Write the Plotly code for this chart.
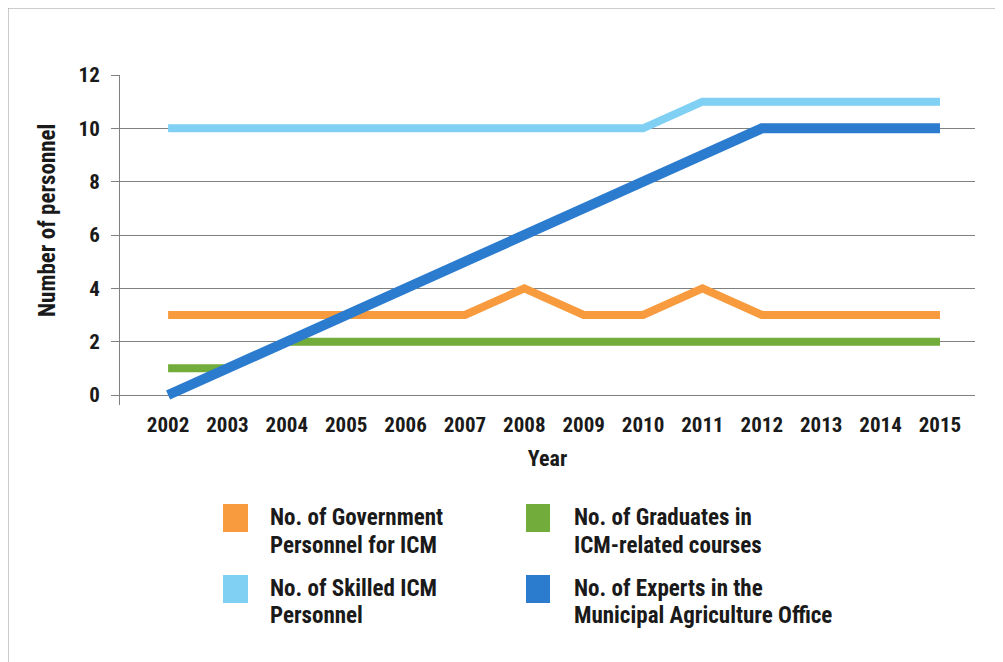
import plotly.graph_objects as go

years = [2002, 2003, 2004, 2005, 2006, 2007, 2008, 2009, 2010, 2011, 2012, 2013, 2014, 2015]
gov_personnel = [3, 3, 3, 3, 3, 3, 4, 3, 3, 4, 3, 3, 3, 3]
graduates = [1, 1, 2, 2, 2, 2, 2, 2, 2, 2, 2, 2, 2, 2]
skilled = [10, 10, 10, 10, 10, 10, 10, 10, 10, 11, 11, 11, 11, 11]
experts = [0, 1, 2, 3, 4, 5, 6, 7, 8, 9, 10, 10, 10, 10]

names = [
    ["No. of Government", "Personnel for ICM"],
    ["No. of Graduates in", "ICM-related courses"],
    ["No. of Skilled ICM", "Personnel"],
    ["No. of Experts in the", "Municipal Agriculture Office"],
]
colors = ["#F89B3E", "#72AC3A", "#80D0F4", "#2B7BCF"]
series = [gov_personnel, graduates, skilled, experts]
widths = [8, 8, 8, 10]

FONT = "Roboto Condensed, Arial Narrow, Liberation Sans, Arial, sans-serif"
TXT = "#1a1a1a"

# page body has an 8px margin: lay out in reference pixel coords, shifted by OFF
OFF = 8
W, H = 1003 - OFF, 662 - OFF
PL, PR, PT, PB = 120, 975, 75, 405          # plot area in reference pixels
L, R, T, B = PL - OFF, W - (PR - OFF), PT - OFF, H - (PB - OFF)
pw, ph = W - L - R, H - T - B


def px(x):
    return (x - PL) / pw


def py(y):
    return (PB - y) / ph


fig = go.Figure()
for s, c, w, n in zip(series, colors, widths, names):
    fig.add_trace(go.Scatter(x=years, y=s, mode="lines", line=dict(color=c, width=w),
                             name=" ".join(n), showlegend=False))

shapes = []
annotations = []
# legend (2x2)
cols = [(223, 248, 268), (526, 550, 572)]
rows = [(504, 532, 517, 545), (575, 603, 588, 615)]
for i, (n, c) in enumerate(zip(names, colors)):
    r, col = divmod(i, 2)
    x0, x1, tx = cols[col]
    y0, y1, ty1, ty2 = rows[r]
    shapes.append(dict(type="rect", xref="paper", yref="paper", x0=px(x0), x1=px(x1),
                       y0=py(y1), y1=py(y0), fillcolor=c, line=dict(width=0)))
    for txt, ty in zip(n, (ty1, ty2)):
        annotations.append(dict(text=txt, xref="paper", yref="paper", x=px(tx), y=py(ty),
                                xanchor="left", yanchor="middle", showarrow=False,
                                font=dict(family=FONT, size=23, color=TXT, weight="bold")))

# y-axis title (placed slightly above the plot-area centre, as in the reference)
annotations.append(dict(text="Number of personnel", xref="paper", yref="paper",
                        x=px(47), y=py(221), textangle=-90, xanchor="center",
                        yanchor="middle", showarrow=False,
                        font=dict(family=FONT, size=23, color=TXT, weight="bold")))

# outer frame (top and left edges visible)
shapes.append(dict(type="line", xref="paper", yref="paper", x0=px(7), x1=px(1010),
                   y0=py(7), y1=py(7), line=dict(color="#9a9a9a", width=3)))
shapes.append(dict(type="line", xref="paper", yref="paper", x0=px(7), x1=px(7),
                   y0=py(7), y1=py(670), line=dict(color="#9a9a9a", width=3)))

fig.update_layout(
    width=W, height=H,
    margin=dict(l=L, r=R, t=T, b=B),
    paper_bgcolor="white", plot_bgcolor="white",
    font=dict(family=FONT, size=21, color=TXT, weight="bold"),
    shapes=shapes, annotations=annotations,
    xaxis=dict(range=[2001.19, 2015.59], tickmode="array", tickvals=years,
               ticktext=[str(y) for y in years], showgrid=False, zeroline=False,
               showline=False, ticks="", ticklabelstandoff=5,
               tickfont=dict(family=FONT, size=21, weight="bold"),
               title=dict(text="Year", font=dict(family=FONT, size=22, weight="bold"),
                          standoff=14)),
    yaxis=dict(range=[-0.375, 12], tickvals=[0, 2, 4, 6, 8, 10, 12], showgrid=True,
               gridcolor="#808080", gridwidth=1, zeroline=False, showline=True,
               linecolor="#808080", linewidth=1, ticks="outside", ticklen=8,
               tickcolor="#808080", ticklabelstandoff=7,
               tickfont=dict(family=FONT, size=21, weight="bold")),
)

fig.write_html("out.html")
